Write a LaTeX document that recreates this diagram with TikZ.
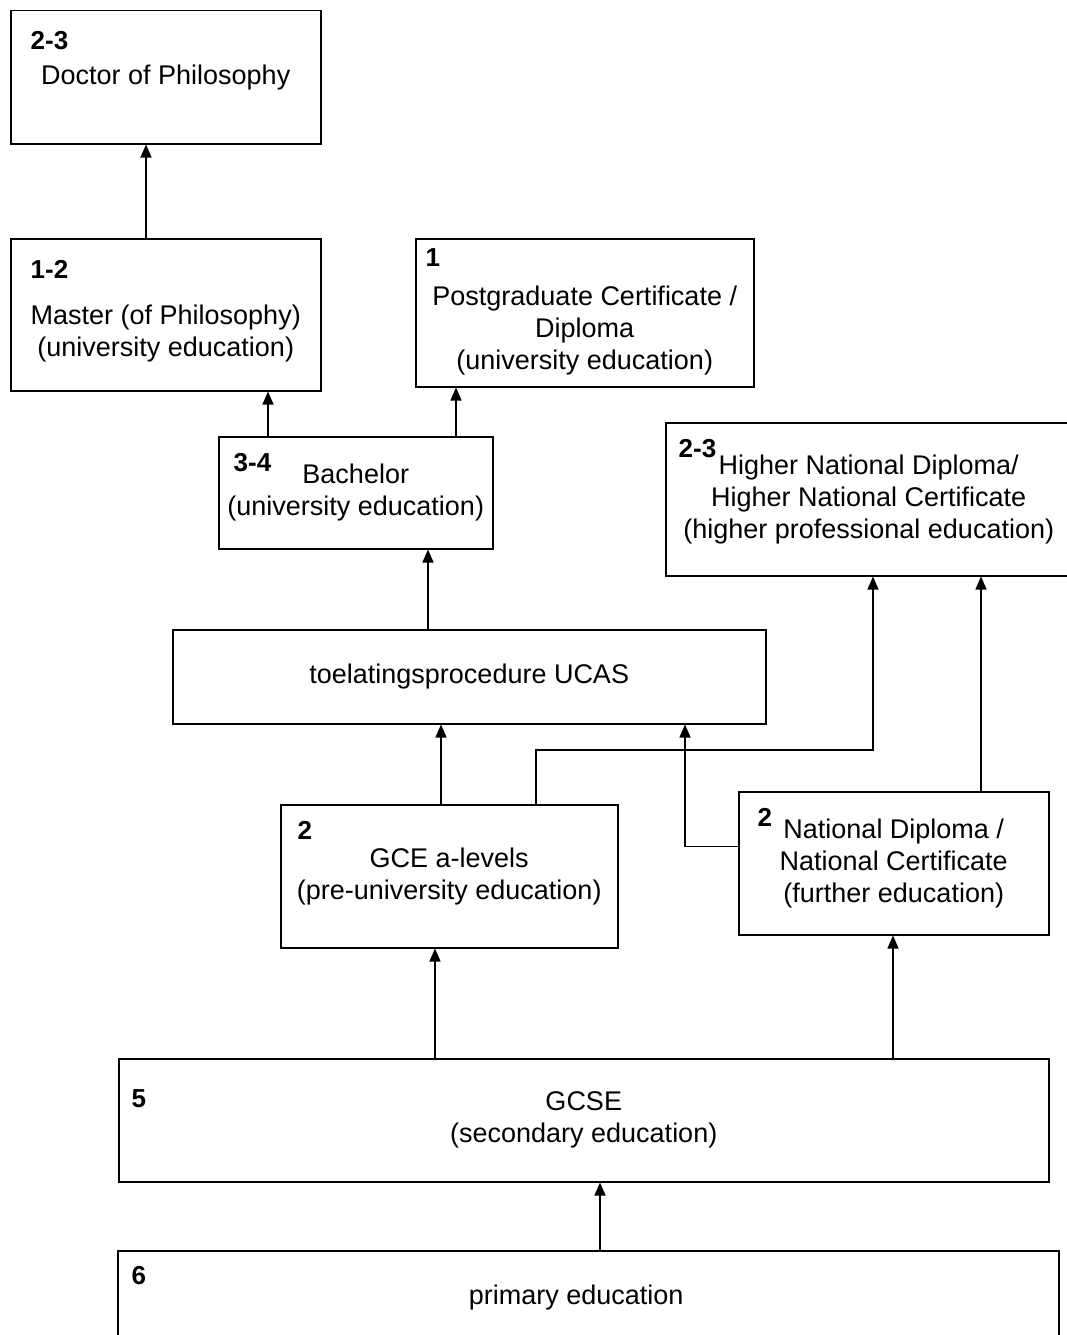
\documentclass[tikz,border=0pt]{standalone}
\usepackage{fontspec}
\setmainfont{Liberation Sans}
\usetikzlibrary{arrows.meta}

\begin{document}
\begin{tikzpicture}[x=1pt,y=1pt,->,>={Triangle[length=13pt,width=11pt]},line width=1.3pt,font=\fontsize{27}{32}\selectfont]
\tikzset{box/.style={draw,-,line width=1.5pt,anchor=north west,inner sep=0pt,align=center},
  num/.style={font=\fontsize{26}{32}\selectfont\bfseries,anchor=base west,inner sep=0pt},
  txt/.style={align=center,inner sep=0pt}}
\useasboundingbox (0,0) rectangle (1067,-1335);
\clip (0,0) rectangle (1067,-1335);

            \node[box,minimum width=310,minimum height=133] (phd) at (10,-10) {Doctor of Philosophy};
            \node[box,minimum width=310,minimum height=152] (ms) at (10,-238) {};
            \node[box,minimum width=338,minimum height=148] (pg) at (415,-238) {};
            \node[box,minimum width=274,minimum height=112] (bach) at (218,-436) {Bachelor\\(university education)};
            \node[box,minimum width=406,minimum height=153] (hnd) at (665,-422) {Higher National Diploma/\\Higher National Certificate\\(higher professional education)};
            \node[box,minimum width=593,minimum height=94] (ucas) at (172,-629) {toelatingsprocedure UCAS};
            \node[box,minimum width=337,minimum height=143] (gce) at (280,-804) {GCE a-levels\\(pre-university education)};
            \node[box,minimum width=310,minimum height=143] (nd) at (738,-791) {National Diploma /\\National Certificate\\(further education)};
            \node[box,minimum width=930,minimum height=123] (gcse) at (118,-1058) {GCSE\\(secondary education)};
            \node[box,minimum width=941,minimum height=110] (prim) at (117,-1250) {};

            \node[txt] (mstxt) at ([yshift=-19]ms.center) {Master (of Philosophy)\\(university education)};
            \node[txt] (pgtxt) at ([yshift=-18]pg.center) {Postgraduate Certificate /\\Diploma\\(university education)};
            \node[txt] (primtxt) at ([xshift=-12,yshift=8]prim.center) {primary education};

            % years
            \node[num] at ([xshift=20,yshift=-40]phd.north west) {2-3};
            \node[num] at ([xshift=20,yshift=-40]ms.north west) {1-2};
            \node[num] at ([xshift=10,yshift=-28]pg.north west) {1};
            \node[num] at ([xshift=15,yshift=-35]bach.north west) {3-4};
            \node[num] at ([xshift=13,yshift=-35]hnd.north west) {2-3};
            \node[num] at ([xshift=17,yshift=-35]gce.north west) {2};
            \node[num] at ([xshift=19,yshift=-35]nd.north west) {2};
            \node[num] at ([xshift=13,yshift=-49]gcse.north west) {5};
            \node[num] at ([xshift=14,yshift=-34]prim.north west) {6};

            \draw ([xshift=136]ms.north west) coordinate (a) -- (a |- phd.south);
            \draw ([xshift=50]bach.north west) coordinate (a) -- (a |- ms.south);
            \draw ([xshift=238]bach.north west) coordinate (a) -- (a |- pg.south);
            \draw ([xshift=256]ucas.north west) coordinate (a) -- (a |- bach.south);
            \draw ([xshift=161]gce.north west) coordinate (a) -- (a |- ucas.south);
            \draw ([xshift=256]gce.north west) -- ++(0,54) -| ([xshift=208]hnd.south west);
            \draw ([yshift=17]nd.west) -| ([xshift=513]ucas.south west);
            \draw ([xshift=243]nd.north west) coordinate (a) -- (a |- hnd.south);
            \draw ([xshift=317]gcse.north west) coordinate (a) -- (a |- gce.south);
            \draw ([xshift=775]gcse.north west) coordinate (a) -- (a |- nd.south);
            \draw ([xshift=483]prim.north west) coordinate (a) -- (a |- gcse.south);
\end{tikzpicture}
\end{document}
